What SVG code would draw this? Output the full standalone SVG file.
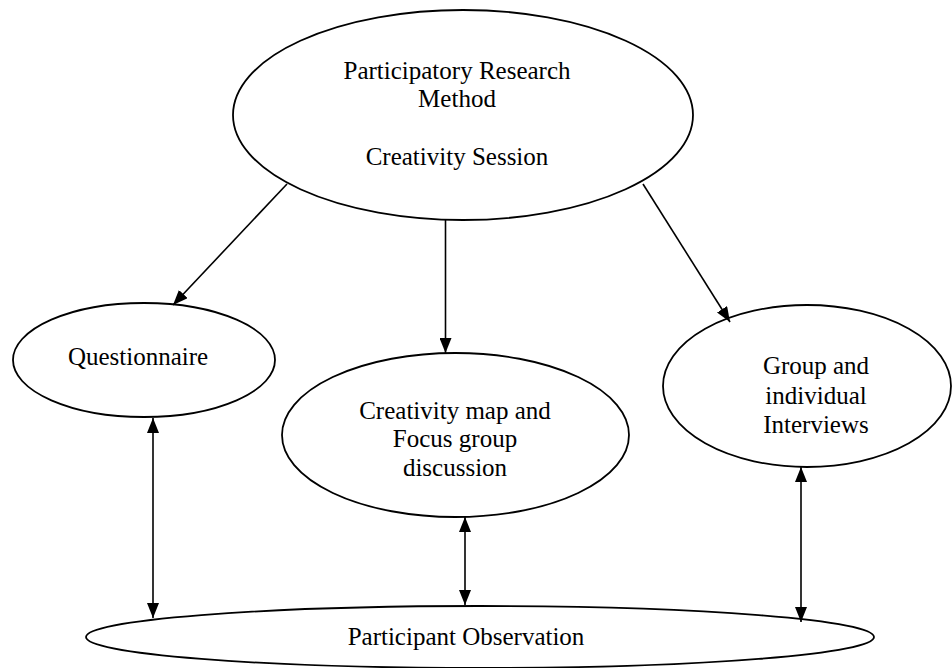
<svg xmlns="http://www.w3.org/2000/svg" width="952" height="668" viewBox="0 0 952 668">
<style>
.node{fill:#fff;stroke:#000;stroke-width:1.8}
.lbl{font-family:"Liberation Serif","Times New Roman",serif;font-size:25px;fill:#000;text-anchor:middle}
.edge{stroke:#000;stroke-width:1.6;fill:none}
</style>
<defs>
<marker id="ah" viewBox="0 0 15 12" refX="15" refY="6" markerWidth="15" markerHeight="12" markerUnits="userSpaceOnUse" orient="auto-start-reverse">
<path d="M0,0 L15,6 L0,12 Z" fill="#000"/>
</marker>
</defs>
<rect width="952" height="668" fill="#fff"/>
<g id="n-top">
<ellipse class="node" cx="463" cy="115" rx="230" ry="105"/>
<text class="lbl" x="457" y="79">Participatory Research</text>
<text class="lbl" x="457" y="107">Method</text>
<text class="lbl" x="457" y="165">Creativity Session</text>
</g>
<g id="n-questionnaire">
<ellipse class="node" cx="144" cy="360" rx="131" ry="57"/>
<text class="lbl" x="138" y="365">Questionnaire</text>
</g>
<g id="n-creativity-map">
<ellipse class="node" cx="455.5" cy="435" rx="173.5" ry="82"/>
<text class="lbl" x="455" y="419">Creativity map and</text>
<text class="lbl" x="455" y="447">Focus group</text>
<text class="lbl" x="455" y="476">discussion</text>
</g>
<g id="n-interviews">
<ellipse class="node" cx="807" cy="386" rx="144" ry="81"/>
<text class="lbl" x="816" y="374">Group and</text>
<text class="lbl" x="816" y="404">individual</text>
<text class="lbl" x="816" y="433">Interviews</text>
</g>
<g id="n-observation">
<ellipse class="node" cx="480" cy="637" rx="394" ry="31"/>
<text class="lbl" x="466" y="645">Participant Observation</text>
</g>
<g id="connectors">
<line class="edge" x1="287" y1="184" x2="173" y2="305" marker-end="url(#ah)"/>
<line class="edge" x1="445.5" y1="220" x2="445.5" y2="353" marker-end="url(#ah)"/>
<line class="edge" x1="643" y1="184" x2="730" y2="322" marker-end="url(#ah)"/>
<line class="edge" x1="153" y1="418" x2="153" y2="618" marker-start="url(#ah)" marker-end="url(#ah)"/>
<line class="edge" x1="465" y1="517" x2="465" y2="605" marker-start="url(#ah)" marker-end="url(#ah)"/>
<line class="edge" x1="801" y1="467" x2="801" y2="622" marker-start="url(#ah)" marker-end="url(#ah)"/>
</g>
</svg>
